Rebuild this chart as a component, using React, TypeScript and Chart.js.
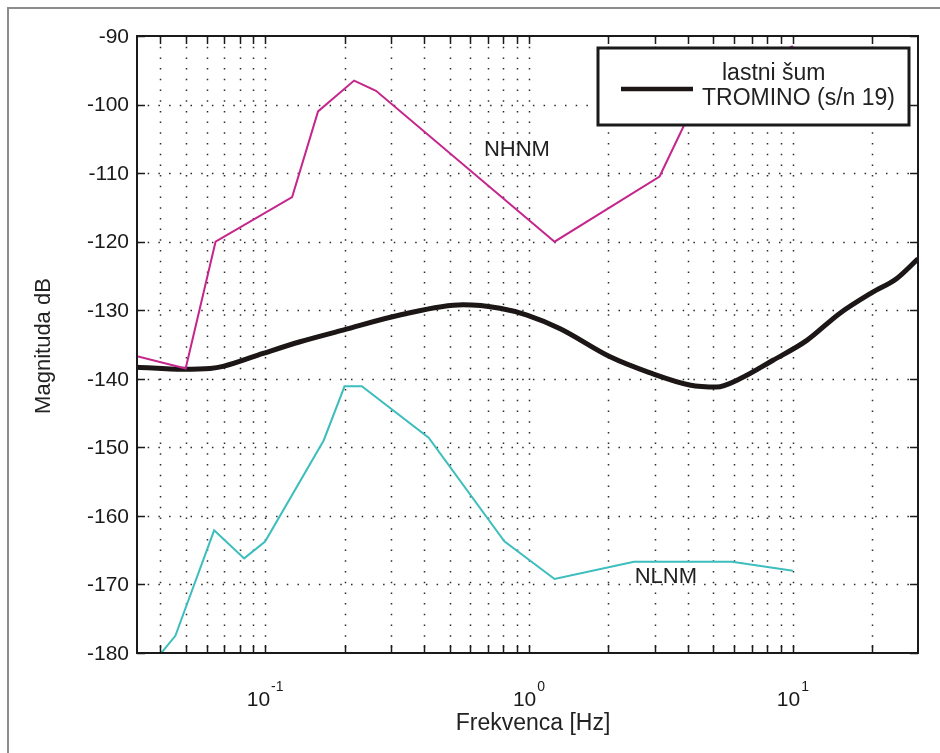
import React, { useEffect, useRef } from "react";
import { Chart, registerables } from "chart.js";

Chart.register(...registerables);

// ---- Data ----
const tromFreq = [0.0327, 0.0489, 0.0619, 0.0693, 0.0983, 0.1357, 0.1974, 0.324, 0.5627, 0.776, 0.983, 1.313, 2.03, 2.86, 4.06, 5.14, 6.3, 8.41, 11.3, 15.0, 20.0, 24.7, 29.8];
const tromDb = [-138.3, -138.6, -138.5, -138.2, -136.3, -134.6, -132.9, -130.7, -129.2, -129.7, -130.7, -132.7, -136.8, -139.1, -140.9, -141.2, -140.0, -137.3, -134.4, -130.5, -127.4, -125.4, -122.5];

const nhnmFreq = [0.0327, 0.05, 0.0649, 0.1266, 0.1587, 0.2174, 0.2632, 1.25, 3.125, 4.545, 10];
const nhnmDb = [-136.7, -138.5, -120.0, -113.5, -101.0, -96.5, -98.0, -120.0, -110.5, -97.4, -91.5];

const nlnmFreq = [0.0316, 0.0457, 0.0641, 0.0833, 0.1, 0.1667, 0.2, 0.2326, 0.4167, 0.8065, 1.25, 2.5, 5.882, 10];
const nlnmDb = [-185.0, -177.5, -162.1, -166.2, -163.75, -149.0, -141.1, -141.1, -148.6, -163.7, -169.2, -166.7, -166.7, -168.0];

const xMin = 0.0327;
const xMax = 29.8;
const yMin = -180;
const yMax = -90;

const xGridTicks = [0.04, 0.05, 0.06, 0.07, 0.08, 0.09, 0.1, 0.2, 0.3, 0.4, 0.5, 0.6, 0.7, 0.8, 0.9, 1, 2, 3, 4, 5, 6, 7, 8, 9, 10, 20];
const xMajorTicks = [0.1, 1, 10];
const xMajorExp = ["-1", "0", "1"];
const yTicks = [-180, -170, -160, -150, -140, -130, -120, -110, -100, -90];

const legendLine1 = "lastni šum";
const legendLine2 = "TROMINO (s/n 19)";
const xTitle = "Frekvenca [Hz]";
const yTitle = "Magnituda dB";
const nhnmLabel = { text: "NHNM", f: 0.9, db: -106.6 };
const nlnmLabel = { text: "NLNM", f: 3.3, db: -168.9 };

const FONT = '"Liberation Sans", Arial, Helvetica, sans-serif';

const toPts = (fs: number[], vs: number[]) => fs.map((f, i) => ({ x: f, y: vs[i] }));

const decorPlugin = {
  id: "decor",
  beforeDatasetsDraw(chart: any) {
    const { ctx, chartArea: a, scales } = chart;
    const xs = scales.x;
    const ys = scales.y;
    ctx.save();
    ctx.strokeStyle = "#2a2a2a";
    ctx.lineWidth = 1.5;
    ctx.setLineDash([1.5, 9.2]);
    xGridTicks.forEach((t) => {
      const px = Math.round(xs.getPixelForValue(t)) + 0.5;
      ctx.beginPath();
      ctx.moveTo(px, a.top);
      ctx.lineTo(px, a.bottom);
      ctx.stroke();
    });
    yTicks.forEach((t) => {
      if (t === yMin || t === yMax) return;
      const py = Math.round(ys.getPixelForValue(t)) + 0.5;
      ctx.beginPath();
      ctx.moveTo(a.left, py);
      ctx.lineTo(a.right, py);
      ctx.stroke();
    });
    ctx.restore();
  },
  afterDatasetsDraw(chart: any) {
    const { ctx, chartArea: a, scales } = chart;
    const xs = scales.x;
    const ys = scales.y;
    ctx.save();
    ctx.setLineDash([]);
    // text annotations
    ctx.fillStyle = "#222";
    ctx.font = `22px ${FONT}`;
    ctx.textAlign = "center";
    ctx.textBaseline = "middle";
    ctx.fillText(nhnmLabel.text, xs.getPixelForValue(nhnmLabel.f), ys.getPixelForValue(nhnmLabel.db));
    ctx.fillText(nlnmLabel.text, xs.getPixelForValue(nlnmLabel.f), ys.getPixelForValue(nlnmLabel.db));

    // frame
    ctx.strokeStyle = "#1a1a1a";
    ctx.lineWidth = 2;
    ctx.strokeRect(a.left, a.top, a.right - a.left, a.bottom - a.top);

    // ticks inward
    const tl = 8;
    ctx.lineWidth = 1.5;
    xGridTicks.forEach((t) => {
      const px = Math.round(xs.getPixelForValue(t)) + 0.5;
      ctx.beginPath();
      ctx.moveTo(px, a.bottom);
      ctx.lineTo(px, a.bottom - tl);
      ctx.moveTo(px, a.top);
      ctx.lineTo(px, a.top + tl);
      ctx.stroke();
    });
    yTicks.forEach((t) => {
      const py = Math.round(ys.getPixelForValue(t)) + 0.5;
      ctx.beginPath();
      ctx.moveTo(a.left, py);
      ctx.lineTo(a.left + tl, py);
      ctx.moveTo(a.right, py);
      ctx.lineTo(a.right - tl, py);
      ctx.stroke();
    });

    // y tick labels
    ctx.fillStyle = "#1a1a1a";
    ctx.font = `21px ${FONT}`;
    ctx.textAlign = "right";
    ctx.textBaseline = "middle";
    yTicks.forEach((t) => {
      ctx.fillText(String(t), a.left - 8, ys.getPixelForValue(t) + 1);
    });

    // x tick labels with superscripts
    ctx.textBaseline = "alphabetic";
    ctx.textAlign = "left";
    xMajorTicks.forEach((t, i) => {
      const base = "10";
      const sup = xMajorExp[i];
      ctx.font = `21px ${FONT}`;
      const wb = ctx.measureText(base).width;
      ctx.font = `14px ${FONT}`;
      const ws = ctx.measureText(sup).width;
      const total = wb + 1 + ws;
      const cx = xs.getPixelForValue(t);
      const x0 = cx - total / 2;
      ctx.font = `21px ${FONT}`;
      ctx.fillText(base, x0, a.bottom + 53);
      ctx.font = `14px ${FONT}`;
      ctx.fillText(sup, x0 + wb + 1, a.bottom + 38);
    });

    // axis titles
    ctx.fillStyle = "#222";
    ctx.font = `23px ${FONT}`;
    ctx.textAlign = "center";
    ctx.textBaseline = "middle";
    ctx.fillText(xTitle, 533, a.bottom + 71);
    ctx.font = `22px ${FONT}`;
    ctx.save();
    ctx.translate(44, 346);
    ctx.rotate(-Math.PI / 2);
    ctx.fillText(yTitle, 0, 0);
    ctx.restore();

    // legend
    const lx = 598, ly = 48, lw = 311, lh = 77;
    ctx.fillStyle = "#fff";
    ctx.fillRect(lx, ly, lw, lh);
    ctx.strokeStyle = "#1a1a1a";
    ctx.lineWidth = 3;
    ctx.strokeRect(lx, ly, lw, lh);
    ctx.strokeStyle = "#1c1616";
    ctx.lineWidth = 4.5;
    ctx.beginPath();
    ctx.moveTo(621, 89);
    ctx.lineTo(693, 89);
    ctx.stroke();
    ctx.fillStyle = "#222";
    ctx.font = `23px ${FONT}`;
    ctx.textAlign = "left";
    ctx.textBaseline = "alphabetic";
    ctx.fillText(legendLine1, 722, 80);
    ctx.fillText(legendLine2, 702, 105);
    ctx.restore();
  },
};

export default function App() {
  const ref = useRef<HTMLCanvasElement | null>(null);
  useEffect(() => {
    if (!ref.current) return;
    const chart = new Chart(ref.current, {
      type: "line",
      data: {
        datasets: [
          {
            label: "NHNM",
            data: toPts(nhnmFreq, nhnmDb),
            borderColor: "#c4268c",
            borderWidth: 2,
            pointRadius: 0,
            tension: 0,
            clip: 0,
          },
          {
            label: "NLNM",
            data: toPts(nlnmFreq, nlnmDb),
            borderColor: "#3dbdbd",
            borderWidth: 2,
            pointRadius: 0,
            tension: 0,
            clip: 0,
          },
          {
            label: "TROMINO",
            data: toPts(tromFreq, tromDb),
            borderColor: "#1c1616",
            borderWidth: 5,
            pointRadius: 0,
            cubicInterpolationMode: "monotone",
            clip: 0,
          },
        ],
      } as any,
      options: {
        animation: false,
        responsive: false,
        parsing: false as any,
        layout: { padding: { left: 137, top: 36, right: 22, bottom: 100 } },
        plugins: { legend: { display: false }, tooltip: { enabled: false } },
        scales: {
          x: { type: "logarithmic", min: xMin, max: xMax, display: false },
          y: { type: "linear", min: yMin, max: yMax, display: false },
        },
      } as any,
      plugins: [decorPlugin],
    });
    return () => chart.destroy();
  }, []);
  return (
    <div style={{ position: "fixed", left: 0, top: 0, width: 940, height: 753, overflow: "hidden", background: "#fff" }}>
      <div style={{ position: "absolute", left: 7, top: 7, width: 1200, height: 1200, borderLeft: "2px solid #8c8c8c", borderTop: "2px solid #8c8c8c" }} />
      <canvas ref={ref} width={940} height={753} style={{ position: "absolute", left: 0, top: 0, display: "block" }} />
    </div>
  );
}
